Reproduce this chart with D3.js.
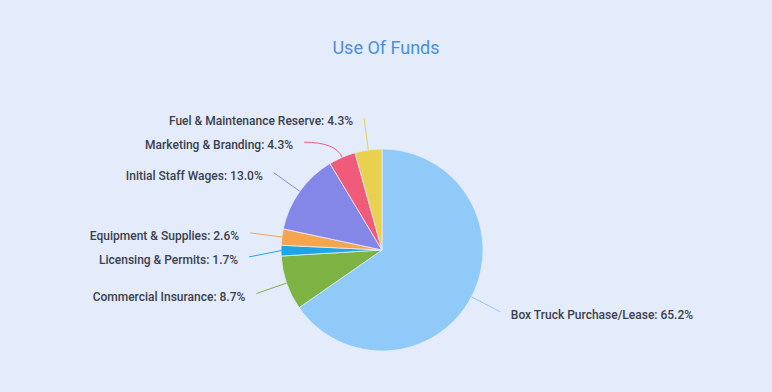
<!DOCTYPE html>
<html><head><meta charset="utf-8">
<script src="https://cdn.jsdelivr.net/npm/d3@7"></script>
<style>
html,body{margin:0;padding:0;background:#E4ECFB;}
svg{display:block;}
</style></head>
<body>
<svg id="chart" width="772" height="392"></svg>
<script>
const categories = ["Box Truck Purchase/Lease","Commercial Insurance","Licensing & Permits","Equipment & Supplies","Initial Staff Wages","Marketing & Branding","Fuel & Maintenance Reserve"];
const values = [65.2, 8.7, 1.7, 2.6, 13.0, 4.3, 4.3];
const colors = ["#90CAF9","#7CB342","#1EA5E6","#F5A54E","#8487E8","#EF5B79","#E7D14F"];
const title = "Use Of Funds";

const W = 772, H = 392;
const cx = 382, cy = 250, r = 101;
const svg = d3.select("#chart");
svg.append("rect").attr("width",W).attr("height",H).attr("fill","#E4ECFB");

svg.append("text").attr("x",386).attr("y",54).attr("text-anchor","middle")
  .attr("font-family","Roboto").attr("font-size",18).attr("fill","#4A8FD8").text(title);

const data = categories.map((c,i)=>({name:c,value:values[i],color:colors[i]}));
const pie = d3.pie().sort(null).value(d=>d.value);
const arcs = pie(data);
const arc = d3.arc().innerRadius(0).outerRadius(r);
const g = svg.append("g").attr("transform",`translate(${cx},${cy})`);
g.selectAll("path").data(arcs).join("path")
  .attr("d",arc).attr("fill",d=>d.data.color)
  .attr("stroke","#E4ECFB").attr("stroke-width",0.8).attr("stroke-linejoin","round");

// label layout
const R = r + 32, gap = 24;
const labels = arcs.map(a=>{
  const mid = (a.startAngle+a.endAngle)/2;
  return {a, mid, left: Math.sin(mid) < 0, y: -R*Math.cos(mid)};
});
["left","right"].forEach(side=>{
  const grp = labels.filter(l => (side==="left") === l.left).sort((p,q)=>p.y-q.y);
  for(let i=1;i<grp.length;i++){
    if(grp[i].y - grp[i-1].y < gap) grp[i].y = grp[i-1].y + gap;
  }
});
labels.forEach(l=>{
  const dy = Math.max(-R, Math.min(R, l.y));
  const dx = Math.sqrt(R*R - dy*dy);
  l.x = l.left ? -dx : dx;
});
const fmt = d3.format(".1f");
labels.forEach(l=>{
  const dir = l.left ? -1 : 1;
  const ux = Math.sin(l.mid), uy = -Math.cos(l.mid);
  const ex = r*ux, ey = r*uy;
  let t = Math.abs(uy) > 1e-6 ? (l.y - ey)/uy : Infinity;
  const path = d3.path();
  path.moveTo(l.x, l.y);
  if (t >= 0 && t <= R - r - 4) {
    path.quadraticCurveTo(ex + ux*t, ey + uy*t, ex, ey);
  } else {
    path.lineTo(ex, ey);
  }
  g.append("path").attr("d",path.toString()).attr("fill","none")
    .attr("stroke",l.a.data.color).attr("stroke-width",1);
  g.append("text").attr("x", l.x + dir*11).attr("y", l.y + 3)
    .attr("dy","0.35em").attr("text-anchor", l.left ? "end" : "start")
    .attr("font-family","Roboto").attr("font-weight",500).attr("font-size",12)
    .attr("fill","#3A404C")
    .text(`${l.a.data.name}: ${fmt(l.a.data.value)}%`);
});
</script>
</body></html>
